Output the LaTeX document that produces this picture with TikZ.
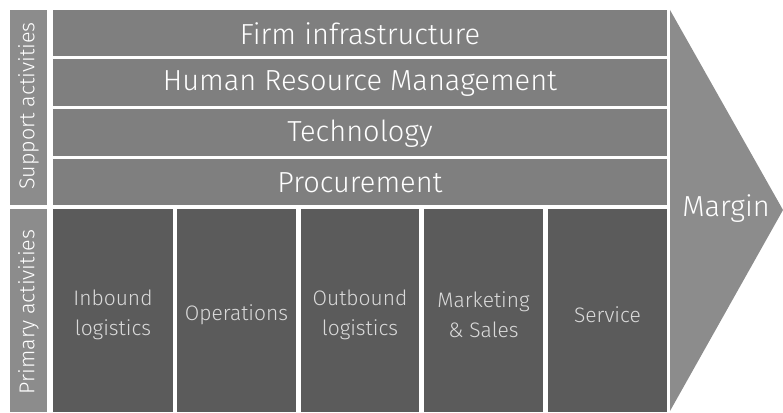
\documentclass[tikz,border=0pt]{standalone}
\usepackage{fontspec}
\setmainfont{Fira Sans}[UprightFont={* Light}]
\definecolor{supbar}{HTML}{7F7F7F}
\definecolor{lblbar}{HTML}{8C8C8C}
\definecolor{pribox}{HTML}{5B5B5B}
\definecolor{pritext}{HTML}{DADADA}
\begin{document}
\begin{tikzpicture}[x=1pt,y=-1pt,
  bar/.style={fill=supbar,draw=none},
  lbl/.style={fill=lblbar,draw=none},
  pbox/.style={fill=pribox,draw=none},
  bartext/.style={text=white,font=\fontsize{29}{34}\selectfont},
  ptext/.style={text=pritext,font=\fontsize{21}{30}\selectfont,align=center},
  vtext/.style={text=white,font=\fontsize{21.5}{24}\selectfont,rotate=90}]
\useasboundingbox (0,0) rectangle (783,412);
% arrow
\fill[lblbar] (670,10) -- (783,210) -- (670,411) -- cycle;
\node[bartext] (margin) at (726,209) {Margin};
% label bars
\fill[lbl] (10,10) rectangle (47,205);
\fill[lbl] (10,209) rectangle (47,412);
\node[vtext] (sup) at (28.5,106) {Support activities};
\node[vtext] (pri) at (28.5,312) {Primary activities};
% support bars
\fill[bar] (53,10) rectangle (667,56);
\fill[bar] (53,59) rectangle (667,106);
\fill[bar] (53,109) rectangle (667,156);
\fill[bar] (53,159) rectangle (667,205);
\node[bartext] (firm) at (360,34) {Firm infrastructure};
\node[bartext] (hrm) at (360,83.5) {Human Resource Management};
\node[bartext] (tech) at (360,133.5) {Technology};
\node[bartext] (proc) at (360,183) {Procurement};
% primary boxes
\fill[pbox] (53,209) rectangle (173,412);
\fill[pbox] (177,209) rectangle (296,412);
\fill[pbox] (301,209) rectangle (419,412);
\fill[pbox] (424,209) rectangle (543,412);
\fill[pbox] (548,209) rectangle (667,412);
\node[ptext] (inb) at (113,315) {Inbound\\logistics};
\node[ptext] (ops) at (236.5,315) {Operations};
\node[ptext] (outb) at (360,315) {Outbound\\logistics};
\node[ptext] (mkt) at (483.5,315) {Marketing\\\& Sales};
\node[ptext] (serv) at (607.5,315) {Service};
\end{tikzpicture}
\end{document}
